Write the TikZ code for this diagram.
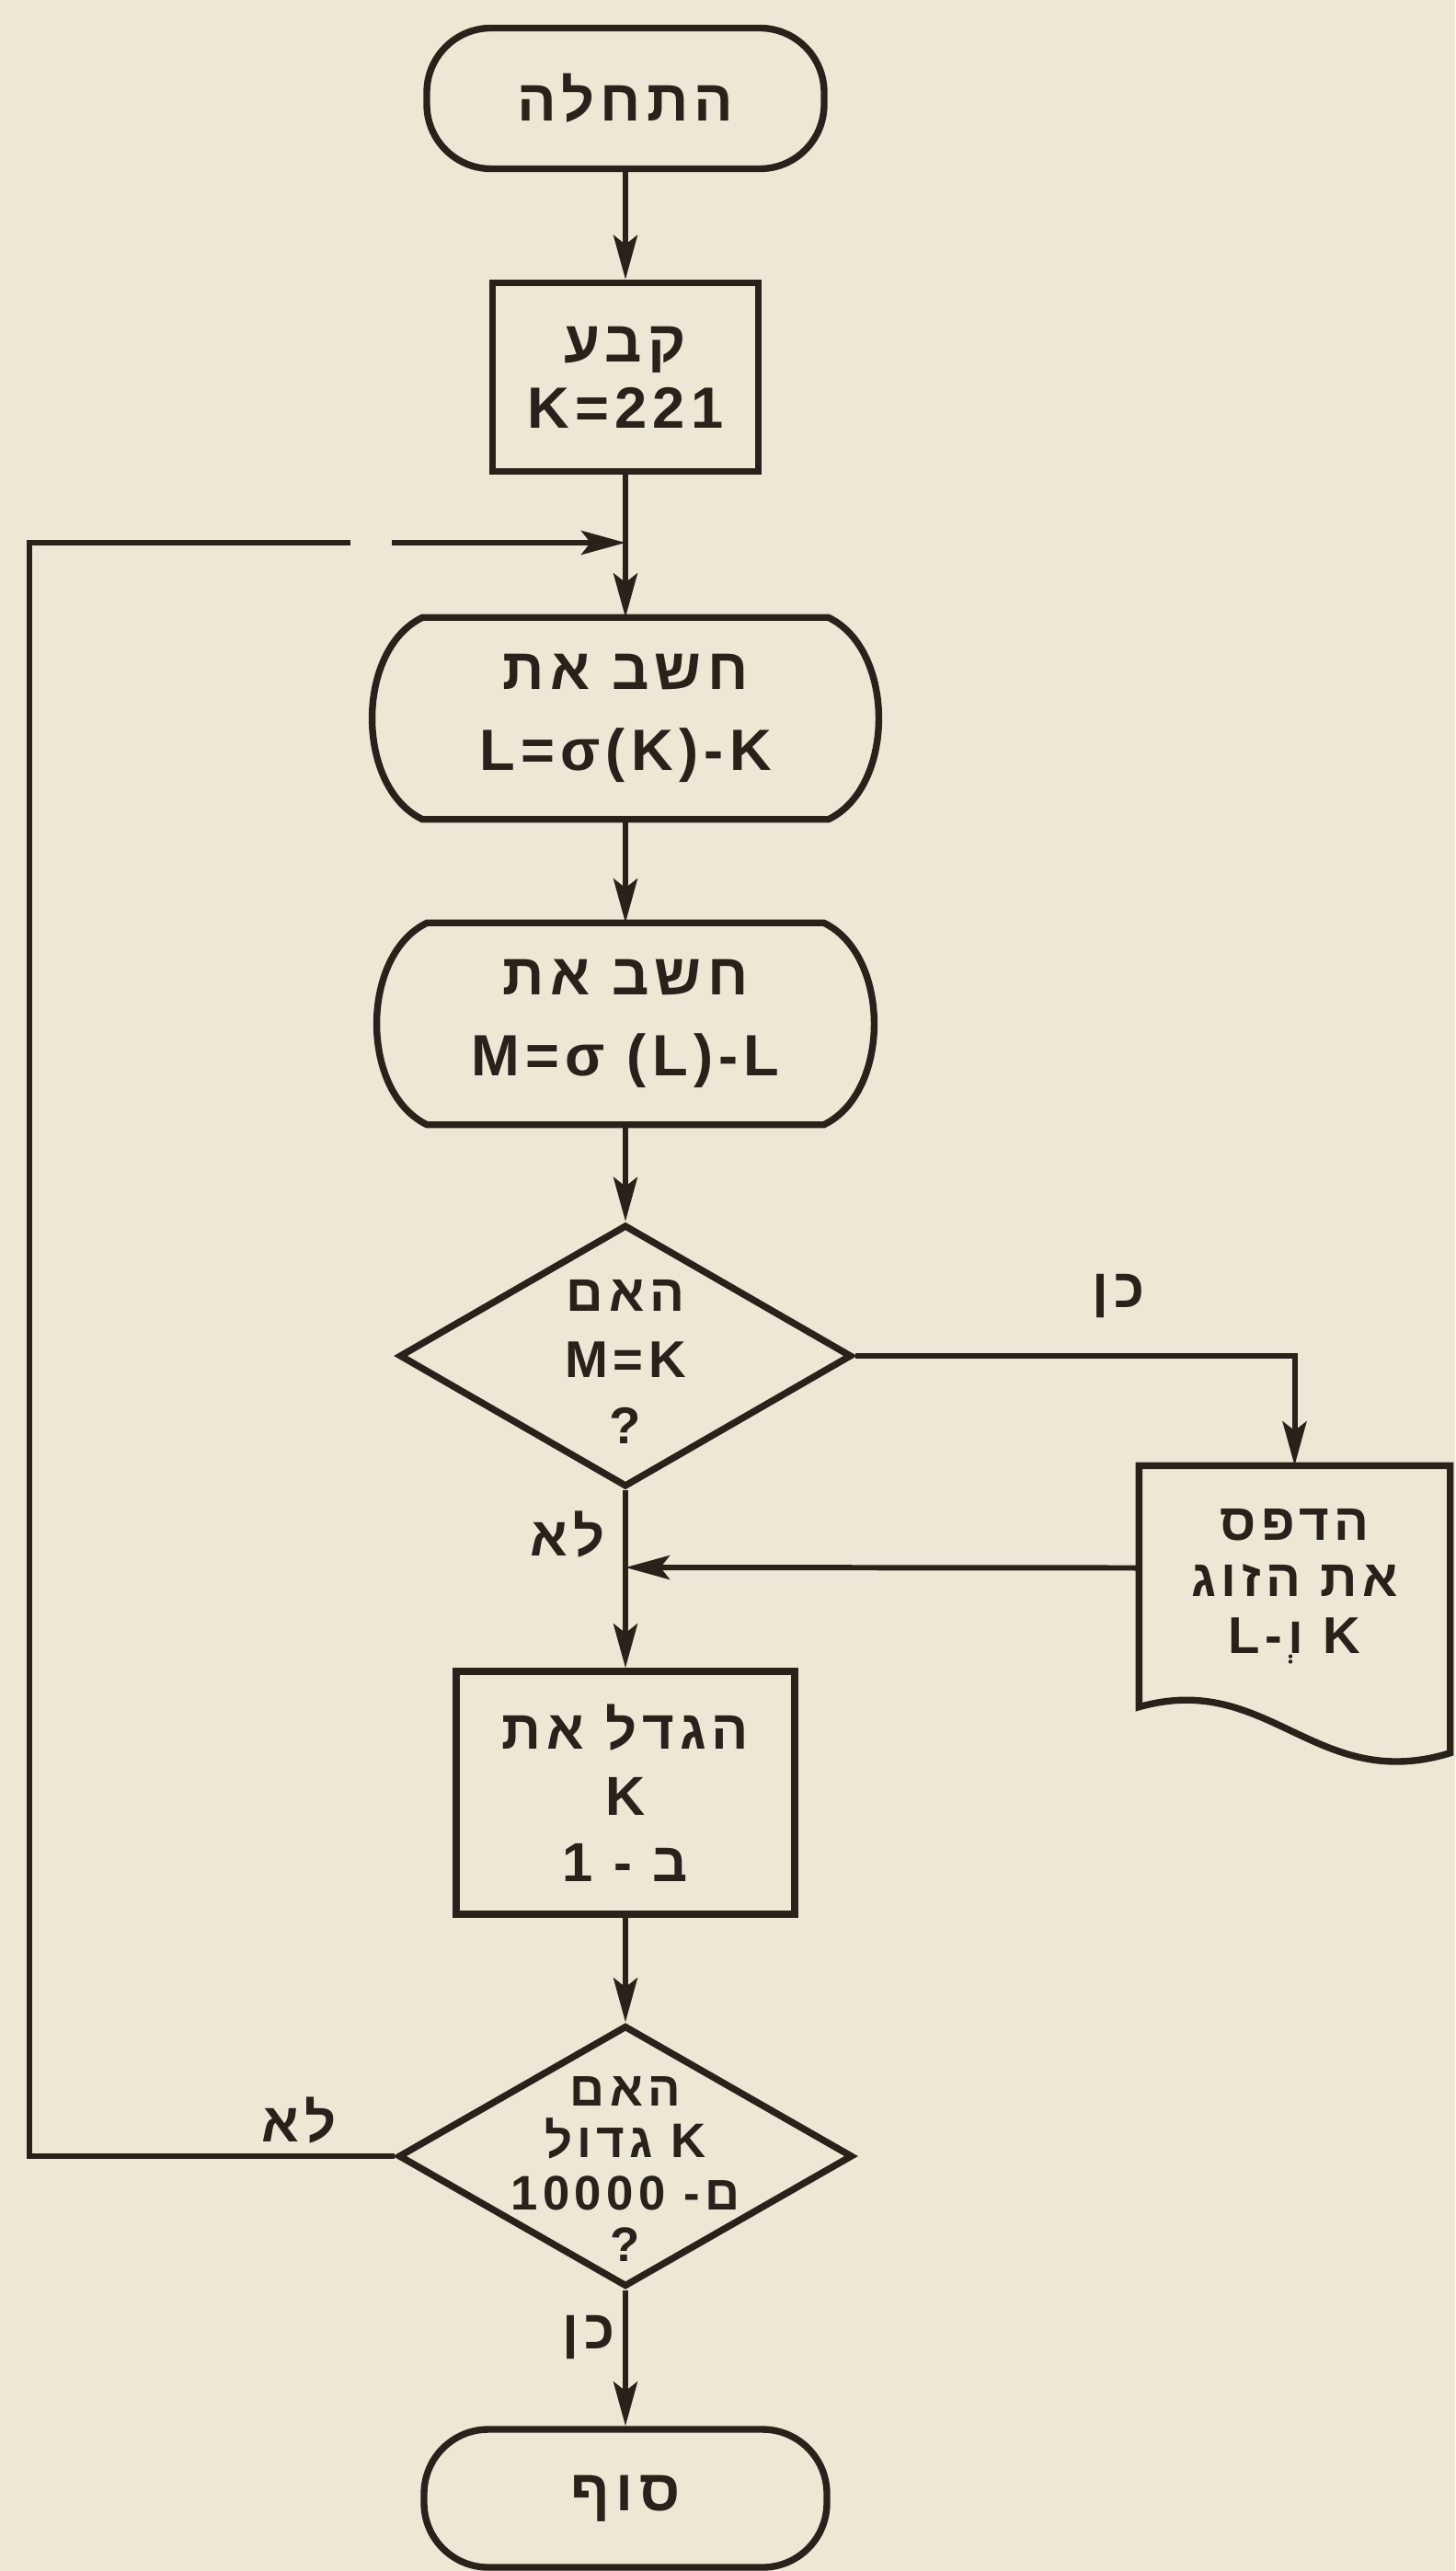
\documentclass[tikz,border=0pt]{standalone}
\usepackage{fontspec}
\setmainfont{Liberation Sans}[UprightFont={* Bold},LetterSpace=10]
\newfontfamily\hebfont[Script=Hebrew,UprightFont={* Bold},LetterSpace=10]{Liberation Sans}
\TeXXeTstate=1
\usetikzlibrary{arrows.meta,positioning,shapes.geometric}
\definecolor{paper}{HTML}{EFE7D6}
\definecolor{ink}{HTML}{28221B}
\newcommand{\heb}[1]{{\hebfont\beginR #1\endR}}

\begin{document}
\begin{tikzpicture}[
    every node/.style={font=\fontsize{18}{25}\selectfont,text=ink},
    outline/.style={draw=ink,line width=2.1pt},
    term/.style={outline,rounded corners=7mm,minimum width=4.32cm,minimum height=1.53cm},
    proc/.style={outline,align=center,inner sep=0pt},
    compute/.style={align=center,inner sep=0pt,minimum width=4.4cm,minimum height=2.18cm},
    decision/.style={diamond,outline,inner sep=0pt,minimum width=4.92cm,minimum height=2.85cm},
    ask/.style={align=center,inner sep=0pt},
    lbl/.style={inner sep=1pt,font=\fontsize{17}{20}\selectfont},
    conn/.style={draw=ink,line width=1.7pt},
    arr/.style={conn,-{Stealth[length=4.8mm,width=2.6mm,inset=1mm]}}
]
\fill[paper] (0,0) rectangle (15.82,-27.95);
\useasboundingbox (0,0) rectangle (15.82,-27.95);

% main column
\node[term] (start) at (6.8,-1.07) {\heb{התחלה}};
\node[proc,minimum width=2.89cm,minimum height=2.05cm,font=\fontsize{18}{20.5}\selectfont] (set) at (6.8,-4.10) {\heb{קבע}\\K=221};
\coordinate (join) at (6.8,-5.90);
\node[compute] (calc1) at (6.8,-7.81) {\heb{חשב את}\\L=σ(K)-K};
\node[compute,minimum width=4.3cm] (calc2) at (6.8,-11.13) {\heb{חשב את}\\M=σ (L)-L};
\foreach \n in {calc1,calc2}
  \draw[outline] (\n.north west) -- (\n.north east)
    .. controls +(0.73,-0.35) and +(0.73,0.35) .. (\n.south east)
    -- (\n.south west)
    .. controls +(-0.73,0.35) and +(-0.73,-0.35) .. (\n.north west) -- cycle;

\node[decision] (dec1) at (6.8,-14.74) {};
\node[ask,font=\fontsize{16}{20.5}\selectfont] (ask1) at ([yshift=-0.06cm]dec1.center) {\heb{האם}\\M=K\\?};
\coordinate (merge) at (6.8,-17.04);
\node[proc,minimum width=3.68cm,minimum height=2.64cm,font=\fontsize{17}{20.5}\selectfont] (inc) at (6.8,-19.49) {\heb{הגדל את}\\K\\\heb{ב - 1}};
\node[decision,minimum width=4.94cm,minimum height=2.84cm] (dec2) at (6.8,-23.44) {};
\node[ask,font=\fontsize{15}{16}\selectfont] (ask2) at ([yshift=-0.14cm]dec2.center) {\heb{האם}\\\heb{K גדול}\\\heb{ם- \beginL 10000\endL}\\?};
\node[term,minimum width=4.38cm,minimum height=1.50cm] (stop) at (6.8,-27.16) {\heb{סוף}};

% print box
\node[align=center,inner sep=0pt,minimum width=3.37cm,minimum height=2.61cm,font=\fontsize{16}{17.5}\selectfont] (doc) at (14.075,-17.245) {\heb{הדפס}\\\heb{את הזוג}\\\heb{K וְ-L}};
\draw[outline] (doc.south west) -- (doc.north west) -- (doc.north east) -- ([yshift=-0.5cm]doc.south east)
  .. controls +(-1.46,-0.45) and +(1.41,0.4) .. (doc.south west) -- cycle;

% loop corners
\coordinate (bl) at (0.32,-23.44);
\coordinate (tl) at (0.32,-5.90);
\coordinate (gapl) at (3.81,-5.90);
\coordinate (gapr) at (4.26,-5.90);

% connectors
\draw[arr] (start) -- (set);
\draw[conn] (set) -- (join);
\draw[arr] (join) -- (calc1);
\draw[arr] (calc1) -- (calc2);
\draw[arr] (calc2) -- (dec1);
\draw[arr] (dec1.east) -| (doc.north);
\draw[arr] (dec1) -- (inc);
\draw[arr] ([yshift=2mm]doc.west) -- (merge);
\draw[arr] (inc) -- (dec2);
\draw[arr] (dec2) -- (stop);
\draw[conn] (dec2.west) -- (bl) -- (tl) -- (gapl);
\draw[arr] (gapr) -- (join);

% branch labels
\node[lbl] (yes1) at (12.16,-14.09) {\heb{כן}};
\node[lbl] (no1) at (6.17,-16.68) {\heb{לא}};
\node[lbl] (no2) at (3.25,-23.05) {\heb{לא}};
\node[lbl] (yes2) at (6.40,-25.41) {\heb{כן}};
\end{tikzpicture}
\end{document}
